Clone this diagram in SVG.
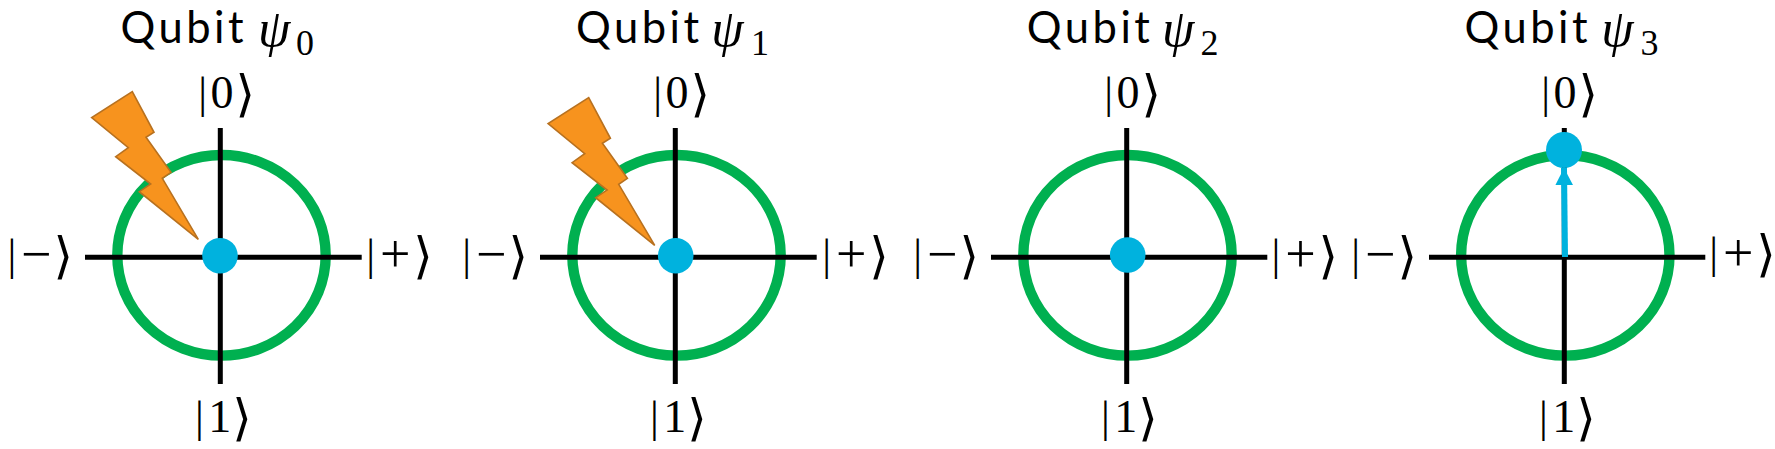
<svg xmlns="http://www.w3.org/2000/svg" width="1775" height="449" viewBox="0 0 1775 449">
<style>
.ring{fill:none;stroke:#00B050;stroke-width:10.4}
.axis{stroke:#000;stroke-width:5;fill:none}
.dot{fill:#00B2DE}
.bolt{fill:#F7931E;stroke:#B8711F;stroke-width:1.6;stroke-linejoin:miter}
.title{font-family:"Lato",sans-serif;font-size:43.5px;letter-spacing:3.5px;fill:#000}
.psi{font-family:"Liberation Serif",serif;font-style:italic;font-size:52px}
.sub{font-family:"Liberation Serif",serif;font-size:36px}
.ket{font-family:"Liberation Serif","DejaVu Serif",serif;font-size:44px;fill:#000}
.dg{font-size:46px}
.op{font-size:54px}
.br{font-size:50px}
.arrow{stroke:#00B2DE;stroke-width:6;fill:none}
</style>
<defs>
<marker id="head" markerUnits="userSpaceOnUse" markerWidth="18" markerHeight="18" refX="17" refY="8.8" orient="auto"><path d="M0 0L17 8.8L0 17.6Z" fill="#00B2DE"/></marker>
<polygon id="boltShape" class="bolt" points="132.3,91.7 154,132.3 146,137.3 171,172.3 162.3,178.3 198.3,239.3 139.3,191.7 150.7,184 115.7,156.7 128.3,147.7 91.7,117.7"/>
</defs>
<g id="qubit0">
<ellipse class="ring" cx="221.5" cy="255.3" rx="104.2" ry="100.3"/>
<path class="axis" d="M220.3 128V384M85 257.3H361.7"/>
<circle class="dot" cx="220" cy="255.7" r="17.8"/>
<text class="title" x="120.5" y="43">Qubit</text><text class="psi" x="258" y="46.4">ψ</text><text class="sub" x="296" y="55">0</text>
<text class="ket" x="198.3 210.6 235.6" y="108">|<tspan class="dg">0</tspan><tspan class="br" dy="3">⟩</tspan></text>
<text class="ket" x="195 208.3 232.3" y="432">|<tspan class="dg">1</tspan><tspan class="br" dy="3">⟩</tspan></text>
<text class="ket" x="7.6 21 53.6" y="269.6">|<tspan class="op" dy="2.5">−</tspan><tspan class="br" dy="0.5">⟩</tspan></text>
<text class="ket" x="366.3 380 413.2" y="269.6">|<tspan class="op" dy="2.5">+</tspan><tspan class="br" dy="0.5">⟩</tspan></text>
</g>
<g id="qubit1">
<ellipse class="ring" cx="676.5" cy="255.3" rx="104.2" ry="100.3"/>
<path class="axis" d="M675.3 128V384M540 257.3H816.7"/>
<circle class="dot" cx="675.7" cy="255.7" r="17.8"/>
<text class="title" x="576" y="43">Qubit</text><text class="psi" x="711.3" y="46.4">ψ</text><text class="sub" x="751" y="55">1</text>
<text class="ket" x="653.3 665.6 690.6" y="108">|<tspan class="dg">0</tspan><tspan class="br" dy="3">⟩</tspan></text>
<text class="ket" x="650 663.3 687.3" y="432">|<tspan class="dg">1</tspan><tspan class="br" dy="3">⟩</tspan></text>
<text class="ket" x="462.3 476 508.6" y="269.6">|<tspan class="op" dy="2.5">−</tspan><tspan class="br" dy="0.5">⟩</tspan></text>
<text class="ket" x="822.3 836 869.2" y="269.6">|<tspan class="op" dy="2.5">+</tspan><tspan class="br" dy="0.5">⟩</tspan></text>
</g>
<g id="qubit2">
<ellipse class="ring" cx="1127.5" cy="255.3" rx="104.2" ry="100.3"/>
<path class="axis" d="M1126.7 128V384M991 257.3H1267.3"/>
<circle class="dot" cx="1127.7" cy="255" r="17.8"/>
<text class="title" x="1026.8" y="43">Qubit</text><text class="psi" x="1162" y="46.4">ψ</text><text class="sub" x="1200.5" y="55">2</text>
<text class="ket" x="1104.3 1116.6 1141.6" y="108">|<tspan class="dg">0</tspan><tspan class="br" dy="3">⟩</tspan></text>
<text class="ket" x="1101 1114.3 1138.3" y="432">|<tspan class="dg">1</tspan><tspan class="br" dy="3">⟩</tspan></text>
<text class="ket" x="913.3 927 959.6" y="269.6">|<tspan class="op" dy="2.5">−</tspan><tspan class="br" dy="0.5">⟩</tspan></text>
<text class="ket" x="1271.6 1285.3 1318.5" y="269.6">|<tspan class="op" dy="2.5">+</tspan><tspan class="br" dy="0.5">⟩</tspan></text>
</g>
<g id="qubit3">
<ellipse class="ring" cx="1565.3" cy="255.3" rx="104.2" ry="100.3"/>
<path class="axis" d="M1564.3 128V384M1429 257.3H1705.3"/>
<text class="title" x="1464.5" y="43">Qubit</text><text class="psi" x="1601.3" y="46.4">ψ</text><text class="sub" x="1640.5" y="55">3</text>
<text class="ket" x="1541.3 1553.6 1578.6" y="108">|<tspan class="dg">0</tspan><tspan class="br" dy="3">⟩</tspan></text>
<text class="ket" x="1539 1552.3 1576.3" y="432">|<tspan class="dg">1</tspan><tspan class="br" dy="3">⟩</tspan></text>
<text class="ket" x="1351.3 1365 1397.6" y="269.6">|<tspan class="op" dy="2.5">−</tspan><tspan class="br" dy="0.5">⟩</tspan></text>
<text class="ket" x="1709.3 1723 1756.2" y="268">|<tspan class="op" dy="2.5">+</tspan><tspan class="br" dy="0.5">⟩</tspan></text>
</g>
<g id="connectors">
<line class="arrow" x1="1565" y1="257" x2="1564" y2="168" marker-end="url(#head)"/>
</g>
<g id="qubit3-state"><circle class="dot" cx="1564" cy="150" r="18"/></g>
<g id="bolt0"><use href="#boltShape"/></g>
<g id="bolt1"><use href="#boltShape" transform="translate(456.4 6)"/></g>
</svg>
